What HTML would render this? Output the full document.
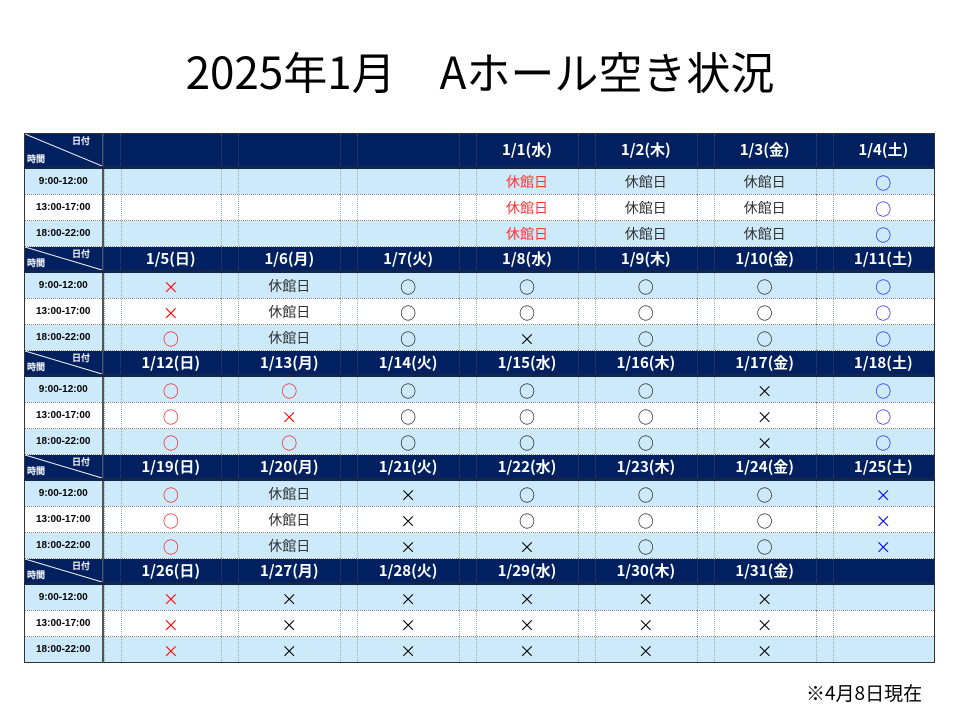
<!DOCTYPE html>
<html><head><meta charset="utf-8"><style>
body{margin:0;width:960px;height:720px;background:#fff;font-family:"Liberation Sans","Noto Sans CJK JP",sans-serif;position:relative;overflow:hidden}
h1{position:absolute;top:41px;left:0;width:960px;margin:0;text-align:center;font-weight:normal;font-size:44px;line-height:58px;color:#000;font-family:"Noto Sans CJK JP",sans-serif}
table{position:absolute;left:24px;top:133px;border-collapse:collapse;table-layout:fixed;width:911px;border:1px solid #333}
td{padding:0;text-align:center;position:relative;height:25px;font-size:14px;border-bottom:1px dotted #888;line-height:20px;font-family:"Noto Sans CJK JP",sans-serif}
td.c{padding-left:17px}
col.t{width:78px}
tr.h td{background:#002060;color:#fff;font-weight:bold;font-size:15px;height:23px;border-bottom:3px solid #15254a}
tr.h0 td{height:32px}
tr.a td{background:#cdeafb}
tr.b td{background:#fff}
td.tl{font-size:10px;font-weight:bold;color:#000;border-right:2px solid #555;font-family:"Liberation Sans",sans-serif}
tr.h td.tl{background:#002060;border-right:1px solid #555;font-size:9px;text-align:left;color:#fff}
td.c::before{content:"";position:absolute;left:0;top:0;bottom:0;border-left:1px dotted #9ab}
td.c::after{content:"";position:absolute;left:17px;top:0;bottom:0;border-left:1px dotted #9ab}
tr.h td.c::before,tr.h td.c::after{border-left:1px dotted #33477a}
.r{color:#f00}.bl{color:#00f}.k{color:#000}.g{color:#333}
.hr{color:#f33}
.s{font-size:16px}
.diag{position:absolute;left:0;top:0;width:100%;height:100%}
.dt{position:absolute;right:12px;top:2px;line-height:10px}
.jk{position:absolute;left:2px;bottom:2px;line-height:10px}
.note{position:absolute;left:806px;top:679px;font-size:19px;color:#000;font-family:"Noto Sans CJK JP",sans-serif}
</style></head><body>
<h1>2025年1月　Aホール空き状況</h1>
<table>
<colgroup><col class="t"><col><col><col><col><col><col><col></colgroup>
<tr class="h h0"><td class="tl"><svg class="diag" viewBox="0 0 78 35" preserveAspectRatio="none"><line x1="0" y1="0" x2="78" y2="35" stroke="#fff" stroke-width="1"/></svg><span class="dt">日付</span><span class="jk">時間</span></td><td class="c"></td><td class="c"></td><td class="c"></td><td class="c">1/1(水)</td><td class="c">1/2(木)</td><td class="c">1/3(金)</td><td class="c">1/4(土)</td></tr>
<tr class="a"><td class="tl">9:00-12:00</td><td class="c"></td><td class="c"></td><td class="c"></td><td class="c hr">休館日</td><td class="c g">休館日</td><td class="c g">休館日</td><td class="c bl s">○</td></tr>
<tr class="b"><td class="tl">13:00-17:00</td><td class="c"></td><td class="c"></td><td class="c"></td><td class="c hr">休館日</td><td class="c g">休館日</td><td class="c g">休館日</td><td class="c bl s">○</td></tr>
<tr class="a"><td class="tl">18:00-22:00</td><td class="c"></td><td class="c"></td><td class="c"></td><td class="c hr">休館日</td><td class="c g">休館日</td><td class="c g">休館日</td><td class="c bl s">○</td></tr>

<tr class="h"><td class="tl"><svg class="diag" viewBox="0 0 78 25" preserveAspectRatio="none"><line x1="0" y1="0" x2="78" y2="25" stroke="#fff"/></svg><span class="dt">日付</span><span class="jk">時間</span></td><td class="c">1/5(日)</td><td class="c">1/6(月)</td><td class="c">1/7(火)</td><td class="c">1/8(水)</td><td class="c">1/9(木)</td><td class="c">1/10(金)</td><td class="c">1/11(土)</td></tr>
<tr class="a"><td class="tl">9:00-12:00</td><td class="c r s">×</td><td class="c g">休館日</td><td class="c k s">○</td><td class="c k s">○</td><td class="c k s">○</td><td class="c k s">○</td><td class="c bl s">○</td></tr>
<tr class="b"><td class="tl">13:00-17:00</td><td class="c r s">×</td><td class="c g">休館日</td><td class="c k s">○</td><td class="c k s">○</td><td class="c k s">○</td><td class="c k s">○</td><td class="c bl s">○</td></tr>
<tr class="a"><td class="tl">18:00-22:00</td><td class="c r s">○</td><td class="c g">休館日</td><td class="c k s">○</td><td class="c k s">×</td><td class="c k s">○</td><td class="c k s">○</td><td class="c bl s">○</td></tr>

<tr class="h"><td class="tl"><svg class="diag" viewBox="0 0 78 25" preserveAspectRatio="none"><line x1="0" y1="0" x2="78" y2="25" stroke="#fff"/></svg><span class="dt">日付</span><span class="jk">時間</span></td><td class="c">1/12(日)</td><td class="c">1/13(月)</td><td class="c">1/14(火)</td><td class="c">1/15(水)</td><td class="c">1/16(木)</td><td class="c">1/17(金)</td><td class="c">1/18(土)</td></tr>
<tr class="a"><td class="tl">9:00-12:00</td><td class="c r s">○</td><td class="c r s">○</td><td class="c k s">○</td><td class="c k s">○</td><td class="c k s">○</td><td class="c k s">×</td><td class="c bl s">○</td></tr>
<tr class="b"><td class="tl">13:00-17:00</td><td class="c r s">○</td><td class="c r s">×</td><td class="c k s">○</td><td class="c k s">○</td><td class="c k s">○</td><td class="c k s">×</td><td class="c bl s">○</td></tr>
<tr class="a"><td class="tl">18:00-22:00</td><td class="c r s">○</td><td class="c r s">○</td><td class="c k s">○</td><td class="c k s">○</td><td class="c k s">○</td><td class="c k s">×</td><td class="c bl s">○</td></tr>

<tr class="h"><td class="tl"><svg class="diag" viewBox="0 0 78 25" preserveAspectRatio="none"><line x1="0" y1="0" x2="78" y2="25" stroke="#fff"/></svg><span class="dt">日付</span><span class="jk">時間</span></td><td class="c">1/19(日)</td><td class="c">1/20(月)</td><td class="c">1/21(火)</td><td class="c">1/22(水)</td><td class="c">1/23(木)</td><td class="c">1/24(金)</td><td class="c">1/25(土)</td></tr>
<tr class="a"><td class="tl">9:00-12:00</td><td class="c r s">○</td><td class="c g">休館日</td><td class="c k s">×</td><td class="c k s">○</td><td class="c k s">○</td><td class="c k s">○</td><td class="c bl s">×</td></tr>
<tr class="b"><td class="tl">13:00-17:00</td><td class="c r s">○</td><td class="c g">休館日</td><td class="c k s">×</td><td class="c k s">○</td><td class="c k s">○</td><td class="c k s">○</td><td class="c bl s">×</td></tr>
<tr class="a"><td class="tl">18:00-22:00</td><td class="c r s">○</td><td class="c g">休館日</td><td class="c k s">×</td><td class="c k s">×</td><td class="c k s">○</td><td class="c k s">○</td><td class="c bl s">×</td></tr>

<tr class="h"><td class="tl"><svg class="diag" viewBox="0 0 78 25" preserveAspectRatio="none"><line x1="0" y1="0" x2="78" y2="25" stroke="#fff"/></svg><span class="dt">日付</span><span class="jk">時間</span></td><td class="c">1/26(日)</td><td class="c">1/27(月)</td><td class="c">1/28(火)</td><td class="c">1/29(水)</td><td class="c">1/30(木)</td><td class="c">1/31(金)</td><td class="c"></td></tr>
<tr class="a"><td class="tl">9:00-12:00</td><td class="c r s">×</td><td class="c k s">×</td><td class="c k s">×</td><td class="c k s">×</td><td class="c k s">×</td><td class="c k s">×</td><td class="c"></td></tr>
<tr class="b"><td class="tl">13:00-17:00</td><td class="c r s">×</td><td class="c k s">×</td><td class="c k s">×</td><td class="c k s">×</td><td class="c k s">×</td><td class="c k s">×</td><td class="c"></td></tr>
<tr class="a"><td class="tl">18:00-22:00</td><td class="c r s">×</td><td class="c k s">×</td><td class="c k s">×</td><td class="c k s">×</td><td class="c k s">×</td><td class="c k s">×</td><td class="c"></td></tr>
</table>
<div class="note">※4月8日現在</div>
</body></html>
